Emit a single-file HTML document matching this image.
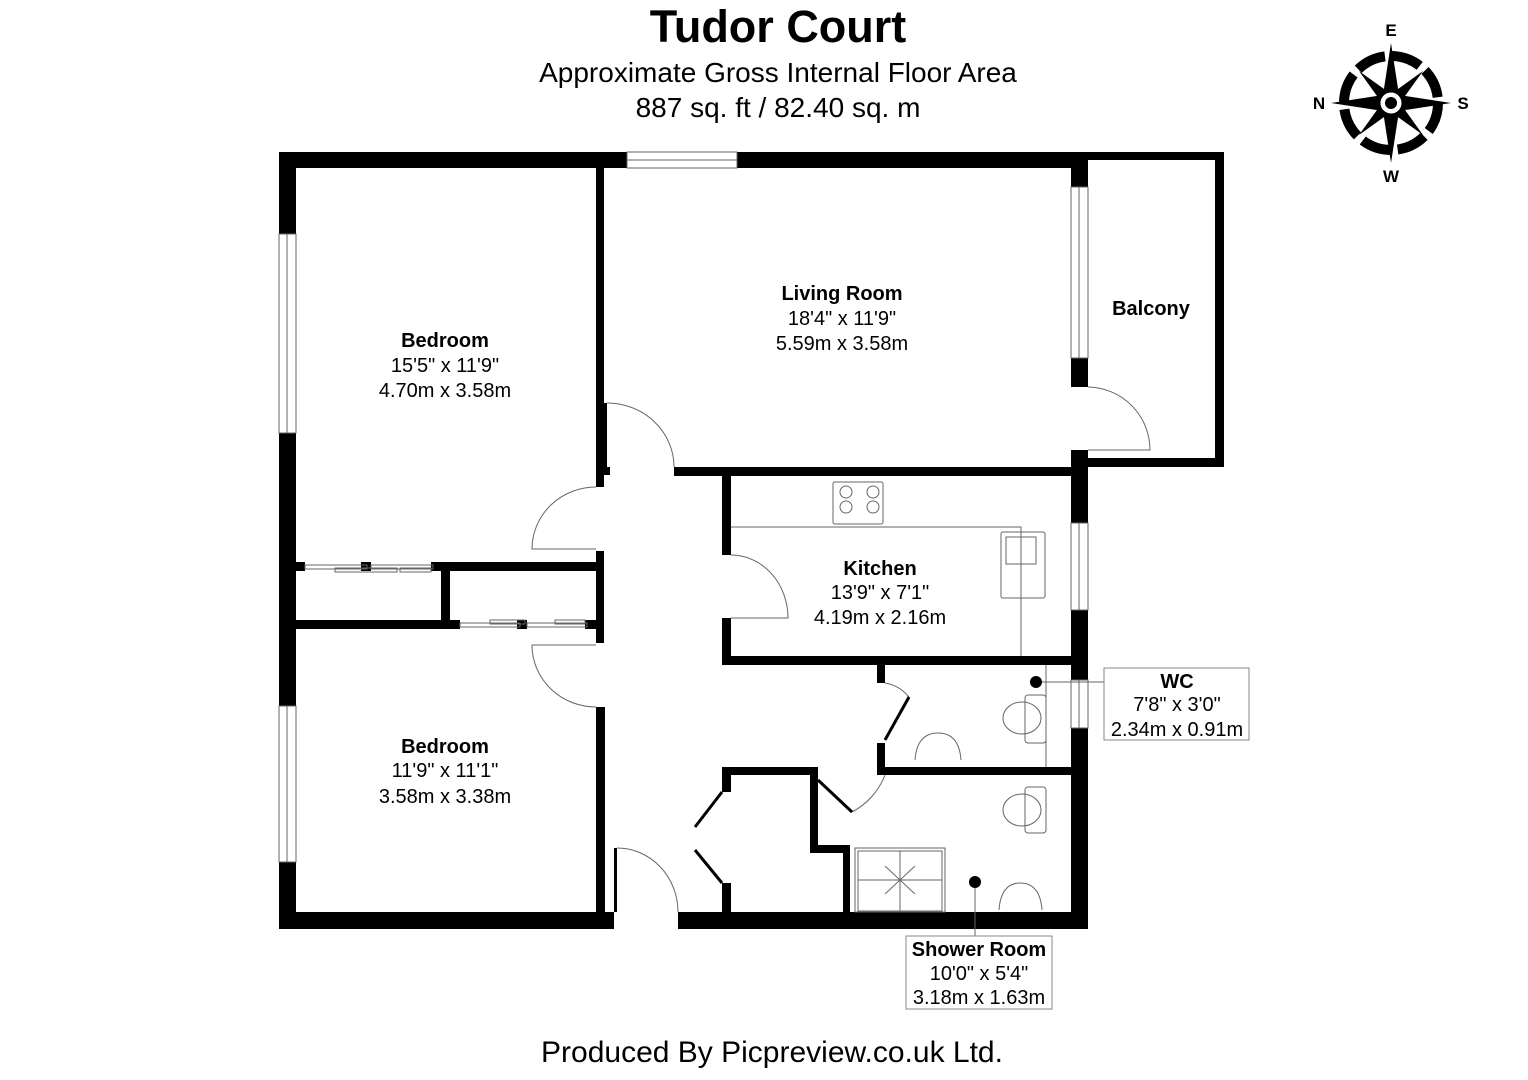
<!DOCTYPE html>
<html><head><meta charset="utf-8"><style>
html,body{margin:0;padding:0;background:#fff;}
svg{display:block;}
text{font-family:"Liberation Sans",Arial,sans-serif;fill:#000;}
</style></head><body>
<svg width="1528" height="1080" viewBox="0 0 1528 1080" xmlns="http://www.w3.org/2000/svg">
<text x="778" y="42" font-size="45" font-weight="bold" text-anchor="middle">Tudor Court</text>
<text x="778" y="82" font-size="28" text-anchor="middle">Approximate Gross Internal Floor Area</text>
<text x="778" y="117" font-size="28" text-anchor="middle">887 sq. ft / 82.40 sq. m</text>
<text x="772" y="1062" font-size="30" text-anchor="middle">Produced By Picpreview.co.uk Ltd.</text>

<g fill="#000">
<rect x="279" y="152" width="348" height="16"/>
<rect x="737" y="152" width="351" height="16"/>
<rect x="1088" y="152" width="136" height="8"/>
<rect x="1215" y="152" width="9" height="315"/>
<rect x="1088" y="458" width="136" height="9"/>
<rect x="279" y="152" width="17" height="82"/>
<rect x="279" y="433" width="17" height="273"/>
<rect x="279" y="862" width="17" height="67"/>
<rect x="279" y="912" width="335" height="17"/>
<rect x="678" y="912" width="410" height="17"/>
<rect x="1071" y="152" width="17" height="35"/>
<rect x="1071" y="358" width="17" height="29"/>
<rect x="1071" y="450" width="17" height="73"/>
<rect x="1071" y="610" width="17" height="70"/>
<rect x="1071" y="728" width="17" height="201"/>
<rect x="596" y="168" width="8" height="319"/>
<rect x="604" y="403" width="3" height="64"/>
<rect x="604" y="467" width="6" height="8"/>
<rect x="596" y="551" width="8" height="92"/>
<rect x="596" y="707" width="9" height="205"/>
<rect x="614" y="848" width="3" height="64"/>
<rect x="674" y="467" width="414" height="9"/>
<rect x="296" y="562" width="9" height="9"/>
<rect x="361" y="562" width="10" height="9"/>
<rect x="431" y="562" width="169" height="9"/>
<rect x="441" y="562" width="9" height="66"/>
<rect x="296" y="620" width="164" height="9"/>
<rect x="517" y="620" width="10" height="9"/>
<rect x="585" y="620" width="15" height="9"/>
<rect x="722" y="476" width="9" height="79"/>
<rect x="722" y="618" width="9" height="47"/>
<rect x="722" y="656" width="366" height="9"/>
<rect x="877" y="665" width="8" height="18"/>
<rect x="877" y="743" width="8" height="32"/>
<rect x="877" y="767" width="211" height="8"/>
<rect x="810" y="767" width="8" height="86"/>
<rect x="810" y="845" width="40" height="8"/>
<rect x="843" y="845" width="7" height="67"/>
<rect x="722" y="767" width="96" height="8"/>
<rect x="722" y="767" width="9" height="25"/>
<rect x="722" y="883" width="9" height="29"/>
</g>

<g fill="none" stroke="#666" stroke-width="1">
<rect x="627" y="152" width="110" height="16"/><line x1="627" y1="160" x2="737" y2="160"/>
<rect x="279" y="234" width="17" height="199"/><line x1="287" y1="234" x2="287" y2="433"/>
<rect x="279" y="706" width="17" height="156"/><line x1="287" y1="706" x2="287" y2="862"/>
<rect x="1071" y="187" width="17" height="171"/><line x1="1079" y1="187" x2="1079" y2="358"/>
<rect x="1071" y="523" width="17" height="87"/><line x1="1079" y1="523" x2="1079" y2="610"/>
<rect x="1071" y="680" width="17" height="48"/><line x1="1079" y1="680" x2="1079" y2="728"/>
<rect x="305" y="565" width="62" height="4"/><rect x="335" y="568" width="62" height="4"/>
<rect x="371" y="565" width="62" height="4"/><rect x="400" y="568" width="31" height="4"/>
<rect x="460" y="623" width="60" height="4"/><rect x="490" y="620" width="35" height="4"/>
<rect x="527" y="623" width="60" height="4"/><rect x="555" y="620" width="30" height="4"/>
<path d="M1088 387 A63 63 0 0 1 1150 450 L1088 450"/>
<path d="M607 403 A67 64 0 0 1 674 467"/>
<path d="M596 487 A64 62 0 0 0 532 549 L596 549"/>
<path d="M596 645 L532 645 A64 62 0 0 0 596 707"/>
<path d="M617 848 A61 64 0 0 1 678 912"/>
<path d="M731 555 A57 63 0 0 1 788 618 L731 618"/>
<path d="M885 683 A40 40 0 0 1 909 697"/>
<path d="M885 775 A70 70 0 0 1 852 812"/>
<polyline points="731,527 1021,527 1021,656"/>
<rect x="833" y="482" width="50" height="42" rx="2"/>
<circle cx="846" cy="492" r="6"/><circle cx="873" cy="492" r="6"/>
<circle cx="846" cy="507" r="6"/><circle cx="873" cy="507" r="6"/>
<rect x="1001" y="532" width="44" height="66" rx="2"/>
<rect x="1006" y="537" width="30" height="27"/>
<line x1="1046" y1="665" x2="1046" y2="767"/>
<rect x="1025" y="695" width="21" height="48" rx="3"/>
<ellipse cx="1022" cy="718" rx="19" ry="16"/>
<path d="M915 760 Q917 733 938 733 Q959 733 961 760"/>
<rect x="1025" y="787" width="21" height="46" rx="3"/>
<ellipse cx="1022" cy="810" rx="19" ry="16"/>
<path d="M999 910 Q1001 883 1020 883 Q1040 883 1042 910"/>
<rect x="855" y="848" width="90" height="64"/>
<rect x="858" y="851" width="84" height="60"/>
<line x1="900" y1="851" x2="900" y2="911"/><line x1="858" y1="880" x2="942" y2="880"/>
<line x1="885" y1="866" x2="915" y2="894"/><line x1="915" y1="866" x2="885" y2="894"/>
<line x1="975" y1="882" x2="975" y2="936"/>
<line x1="1040" y1="682" x2="1104" y2="682"/>
<rect x="1104" y="668" width="145" height="72" stroke="#888"/>
<rect x="906" y="936" width="146" height="73" stroke="#888"/>
</g>
<g stroke="#000" stroke-width="3" fill="none">
<line x1="909" y1="697" x2="885" y2="740"/>
<line x1="818" y1="780" x2="852" y2="812"/>
<line x1="722" y1="792" x2="695" y2="827"/>
<line x1="722" y1="883" x2="695" y2="850"/>
</g>
<circle cx="1036" cy="682" r="6" fill="#000"/>
<circle cx="975" cy="882" r="6" fill="#000"/>

<g text-anchor="middle" font-size="20">
<text x="445" y="347" font-weight="bold">Bedroom</text>
<text x="445" y="372">15'5" x 11'9"</text>
<text x="445" y="397">4.70m x 3.58m</text>
<text x="842" y="300" font-weight="bold">Living Room</text>
<text x="842" y="325">18'4" x 11'9"</text>
<text x="842" y="350">5.59m x 3.58m</text>
<text x="1151" y="315" font-weight="bold">Balcony</text>
<text x="880" y="575" font-weight="bold">Kitchen</text>
<text x="880" y="599">13'9" x 7'1"</text>
<text x="880" y="624">4.19m x 2.16m</text>
<text x="445" y="753" font-weight="bold">Bedroom</text>
<text x="445" y="777">11'9" x 11'1"</text>
<text x="445" y="803">3.58m x 3.38m</text>
<text x="1177" y="688" font-weight="bold">WC</text>
<text x="1177" y="711">7'8" x 3'0"</text>
<text x="1177" y="736">2.34m x 0.91m</text>
<text x="979" y="956" font-weight="bold">Shower Room</text>
<text x="979" y="980">10'0" x 5'4"</text>
<text x="979" y="1004">3.18m x 1.63m</text>
</g>

<g transform="translate(1391,103)">
<circle r="47" fill="none" stroke="#000" stroke-width="10" stroke-dasharray="30 7"/>
<g fill="#000">
<polygon points="0,-60 8,-8 0,0 -8,-8"/>
<polygon points="0,60 8,8 0,0 -8,8"/>
<polygon points="-60,0 -8,-8 0,0 -8,8"/>
<polygon points="60,0 8,-8 0,0 8,8"/>
<polygon points="-32,-32 0,-9 0,0 -9,0"/>
<polygon points="32,-32 0,-9 0,0 9,0"/>
<polygon points="-32,32 0,9 0,0 -9,0"/>
<polygon points="32,32 0,9 0,0 9,0"/>
</g>
<circle r="12" fill="#fff" stroke="#000" stroke-width="3"/>
<circle r="6" fill="#000"/>
</g>
<g font-size="17" font-weight="bold" text-anchor="middle">
<text x="1391" y="36">E</text>
<text x="1319" y="109">N</text>
<text x="1463" y="109">S</text>
<text x="1391" y="182">W</text>
</g>
</svg>
</body></html>
